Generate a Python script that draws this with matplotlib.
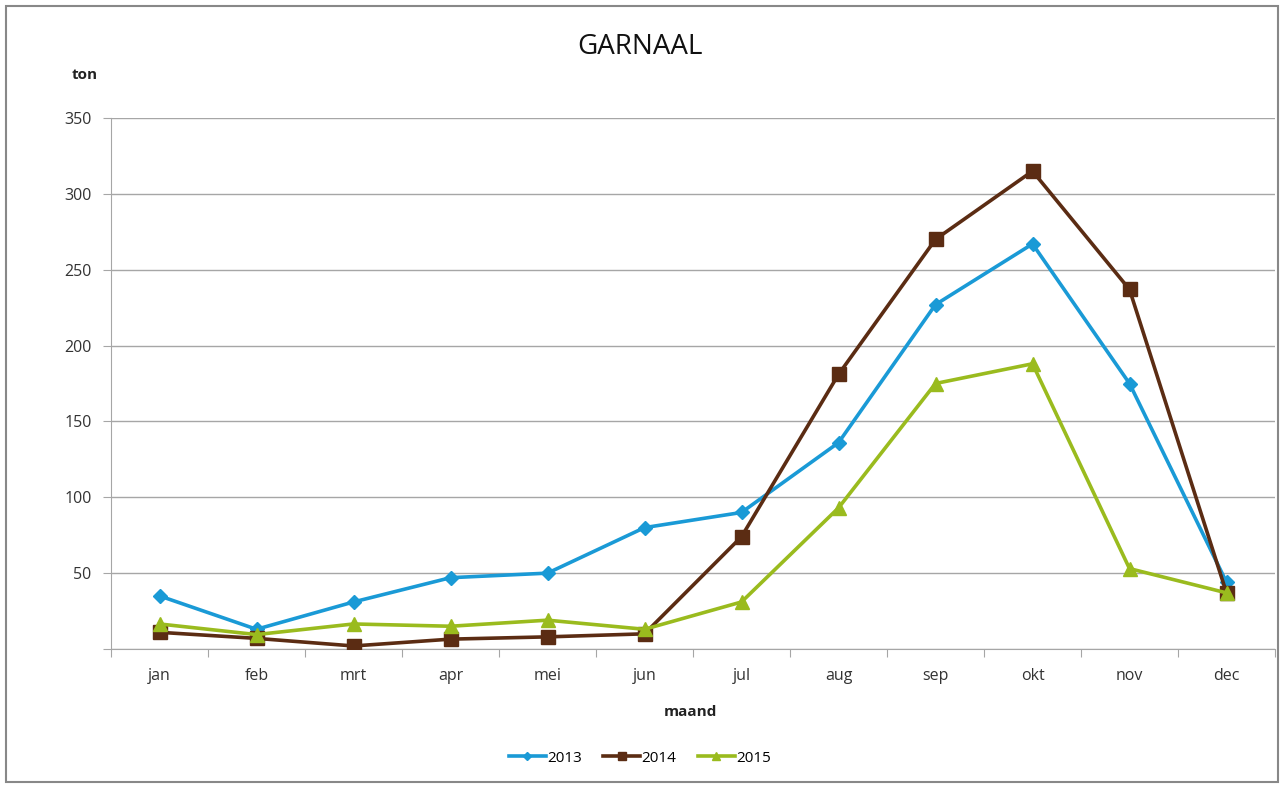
import matplotlib
matplotlib.use("Agg")
import matplotlib.pyplot as plt
from matplotlib.ticker import FuncFormatter, FixedLocator
from matplotlib.patches import Rectangle

months = ["jan", "feb", "mrt", "apr", "mei", "jun", "jul", "aug", "sep", "okt", "nov", "dec"]
s2013 = [35, 13, 31, 47, 50, 80, 90, 136, 227, 267, 175, 44]
s2014 = [11, 7, 2, 6.5, 8, 10, 74, 181, 270, 315, 237, 37]
s2015 = [16.5, 9.5, 16.5, 15, 19, 13, 31, 93, 175, 188, 53, 37]
years = ["2013", "2014", "2015"]

plt.rcParams['font.family'] = ['Open Sans', 'DejaVu Sans']

fig = plt.figure(figsize=(12.85, 7.87), dpi=100)
fig.patches.append(Rectangle((6/1285, 5/787), 1272/1285, 776/787, transform=fig.transFigure,
                             fill=False, edgecolor='#888888', linewidth=1.5))
ax = fig.add_axes([111/1285, 138/787, 1164/1285, 531/787])

x = list(range(len(months)))
ax.plot(x, s2013, color='#1a9ad6', lw=2.6, marker='D', ms=7, label=years[0], zorder=3)
ax.plot(x, s2014, color='#5b2c13', lw=2.6, marker='s', ms=9.5, label=years[1], zorder=4)
ax.plot(x, s2015, color='#9abb1e', lw=2.6, marker='^', ms=10, label=years[2], zorder=5)

ax.set_xlim(-0.5, 11.5)
ax.set_ylim(0, 350)
ax.set_yticks(range(0, 351, 50))
ax.yaxis.set_major_formatter(FuncFormatter(lambda v, p: "" if v == 0 else f"{int(v)}"))
ax.grid(axis='y', color='#a6a6a6', lw=1)
ax.set_axisbelow(True)

ax.xaxis.set_major_locator(FixedLocator([i - 0.5 for i in range(13)]))
ax.xaxis.set_minor_locator(FixedLocator(x))
ax.set_xticklabels([], minor=False)
ax.set_xticklabels(months, minor=True)
ax.tick_params(axis='x', which='major', length=6, color='#a6a6a6', labelbottom=False)
ax.tick_params(axis='x', which='minor', length=0, pad=14, labelsize=11.5, labelcolor='#333333')
ax.tick_params(axis='y', length=6, color='#a6a6a6', labelsize=11.5, labelcolor='#333333', pad=8)

for s in ['top', 'right']:
    ax.spines[s].set_visible(False)
for s in ['left', 'bottom']:
    ax.spines[s].set_color('#a6a6a6')

fig.text(640/1285, 1 - 47/787, "GARNAAL", ha='center', va='center', fontsize=20, color='#111111')
fig.text(85/1285, 1 - 75/787, "ton", ha='center', va='center', fontsize=11, fontweight='bold', color='#222222')
fig.text(690/1285, 1 - 712/787, "maand", ha='center', va='center', fontsize=11, fontweight='bold', color='#222222')

fig.legend(loc='center', bbox_to_anchor=(640/1285, 1 - 758/787), ncol=3, frameon=False,
           fontsize=11, handlelength=2.4, columnspacing=1.4, handletextpad=0.1, markerscale=0.6)

fig.savefig("out.png", dpi=100)
